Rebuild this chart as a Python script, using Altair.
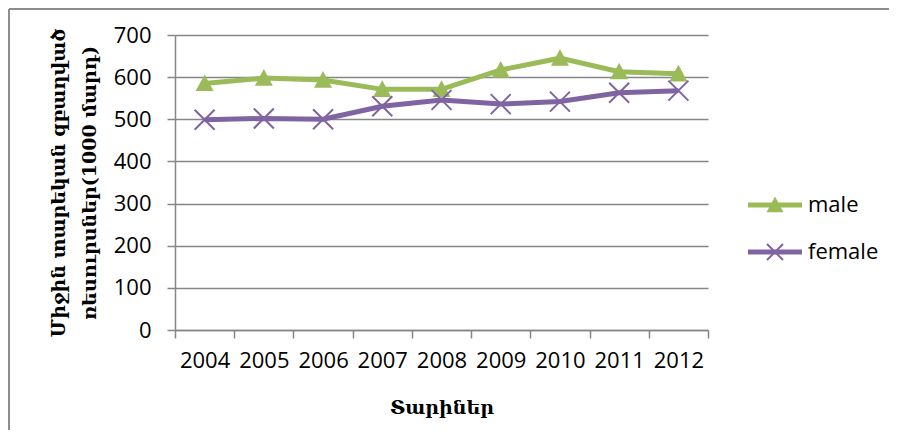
import altair as alt
import pandas as pd

# ---- data ----
years = ["2004", "2005", "2006", "2007", "2008", "2009", "2010", "2011", "2012"]
male = [585, 598, 593, 571, 571, 617, 645, 613, 608]
female = [499, 502, 500, 531, 546, 536, 542, 563, 568]
series_names = ["male", "female"]
series_colors = ["#9BBB59", "#8064A2"]
y_ticks = [0, 100, 200, 300, 400, 500, 600, 700]
y_title = ["Միջին տարեկան զբաղված", "ռեսուրսներ(1000 մարդ)"]
x_title = "Տարիներ"

rows = []
for s, vals in zip(series_names, [male, female]):
    for yr, v in zip(years, vals):
        rows.append({"year": yr, "value": v, "series": s})
df = pd.DataFrame(rows)
legend_df = pd.DataFrame({"series": series_names, "idx": list(range(len(series_names)))})

GRID = "#868686"
LABEL_FONT = "Open Sans"
TITLE_FONT = "DejaVu Serif"

TRI = "M0,-1L1,0.85L-1,0.85Z"
XS = "M-1,-1L1,1M-1,1L1,-1"

x_enc = alt.X(
    "year:N",
    sort=years,
    scale=alt.Scale(type="band", paddingInner=0, paddingOuter=0),
    axis=alt.Axis(
        title=x_title, labelAngle=0, tickBand="extent", tickSize=8,
        domainColor=GRID, tickColor=GRID, domainWidth=1.5, tickWidth=1.5,
        labelFont=LABEL_FONT, labelFontSize=22, labelColor="black", labelPadding=12,
        titleFont=TITLE_FONT, titleFontSize=19, titleFontWeight="bold",
        titleColor="black", titlePadding=27, grid=False,
    ),
)
y_enc = alt.Y(
    "value:Q",
    scale=alt.Scale(domain=[0, 700], nice=False),
    axis=alt.Axis(
        values=y_ticks, grid=True, gridColor=GRID, gridWidth=1.5,
        domainColor=GRID, tickColor=GRID, domainWidth=1.5, tickWidth=1.5, tickSize=8,
        labelFont=LABEL_FONT, labelFontSize=22, labelColor="black", labelPadding=16,
        title=y_title, titleFont=TITLE_FONT, titleFontSize=19, titleFontWeight="bold",
        titleColor="black", titleLineHeight=31, titlePadding=14,
    ),
)
color_scale = alt.Scale(domain=series_names, range=series_colors)
col = alt.Color("series:N", scale=color_scale, legend=None)

base = alt.Chart(df)
line = base.mark_line(strokeWidth=5).encode(x=x_enc, y=y_enc, color=col)
tri = base.transform_filter("datum.series == 'male'").mark_point(
    shape=TRI, filled=True, size=324, opacity=1
).encode(x=x_enc, y=y_enc, color=col)
xs = base.transform_filter("datum.series == 'female'").mark_point(
    shape=XS, filled=False, size=400, strokeWidth=2, opacity=1
).encode(x=x_enc, y=y_enc, color=col)
main = alt.layer(line, tri, xs)

# ---- legend (right side), rows placed through their own scale ----
ly = alt.Y("idx:Q", scale=alt.Scale(domain=[0, 1], range=[170, 217]), axis=None)
lbase = alt.Chart(legend_df)
leg_line = lbase.mark_rule(strokeWidth=5).encode(
    x=alt.value(573), x2=alt.value(627), y=ly, color=col
)
leg_tri = lbase.transform_filter("datum.series == 'male'").mark_point(
    shape=TRI, filled=True, size=289, opacity=1
).encode(x=alt.value(600), y=ly, color=col)
leg_x = lbase.transform_filter("datum.series == 'female'").mark_point(
    shape=XS, filled=False, size=256, strokeWidth=2, opacity=1
).encode(x=alt.value(600), y=ly, color=col)
leg_text = lbase.mark_text(
    align="left", baseline="middle", font=LABEL_FONT, fontSize=22, color="black", dx=0
).encode(x=alt.value(633), y=ly, text="series:N")
legend = alt.layer(leg_line, leg_tri, leg_x, leg_text)

frame = alt.Data(values=[{"k": 1}])
border_top = alt.Chart(frame).mark_rule(color="#8c8c8c", strokeWidth=2).encode(
    x=alt.value(-166), x2=alt.value(714), y=alt.value(-26)
)
border_left = alt.Chart(frame).mark_rule(color="#8c8c8c", strokeWidth=2).encode(
    x=alt.value(-166), y=alt.value(-26), y2=alt.value(420)
)

chart = alt.layer(border_top, border_left, main, legend).resolve_scale(
    y="independent"
).properties(
    width=533, height=295,
    padding={"left": 167, "top": 27, "right": 181, "bottom": 100},
    autosize="none",
    background="white",
).configure_view(stroke=None)

chart.save("out.html", embed_options={"renderer": "svg", "actions": False})
